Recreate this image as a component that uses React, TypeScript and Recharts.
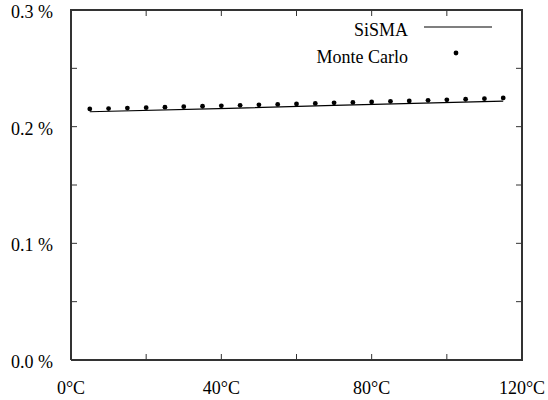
import { ComposedChart, Line, Scatter, XAxis, YAxis } from "recharts";

// Monte Carlo samples, every 5 °C
const temps = [5, 10, 15, 20, 25, 30, 35, 40, 45, 50, 55, 60, 65, 70, 75, 80, 85, 90, 95, 100, 105, 110, 115];
const monteCarlo = [
  0.2152, 0.2155, 0.2159, 0.2163, 0.2167, 0.2171, 0.2175, 0.2179, 0.2183, 0.2187, 0.2191, 0.2195,
  0.2199, 0.2204, 0.2208, 0.2212, 0.2217, 0.2221, 0.2226, 0.2230, 0.2235, 0.2240, 0.2246,
];

// SiSMA model curve
const sismaTemps = [5, 42, 70, 115];
const sismaValues = [0.2128, 0.2157, 0.2182, 0.2219];

const xTicks = [0, 20, 40, 60, 80, 100, 120];
const xTickLabels = ["0°C", "", "40°C", "", "80°C", "", "120°C"];
const yTicks = [0, 0.05, 0.1, 0.15, 0.2, 0.25, 0.3];
const yTickLabels = ["0.0 %", "", "0.1 %", "", "0.2 %", "", "0.3 %"];

const X_MIN = 0;
const X_MAX = 120;
const Y_MIN = 0;
const Y_MAX = 0.3;

const mcData = temps.map((t, i) => ({ t, v: monteCarlo[i] }));
const sismaData = sismaTemps.map((t, i) => ({ t, v: sismaValues[i] }));
// box round the plot, walked corner to corner
const frameData = [
  { t: X_MIN, v: Y_MIN },
  { t: X_MAX, v: Y_MIN },
  { t: X_MAX, v: Y_MAX },
  { t: X_MIN, v: Y_MAX },
  { t: X_MIN, v: Y_MIN },
];

const W = 548;
const H = 400;
const MARGIN = { top: 10, right: 26, bottom: 0, left: 10 };
const Y_AXIS_W = 61;
const X_AXIS_H = 40;
const PLOT_W = W - MARGIN.left - Y_AXIS_W - MARGIN.right;
const PLOT_H = H - MARGIN.top - X_AXIS_H;
const TICK = 6;

const FONT = "'Liberation Serif', 'Times New Roman', serif";
const AXIS = "#333";

// inward ticks on bottom + mirrored on top
const XTick = (props: any) => {
  const { x, y, payload } = props;
  const label = xTickLabels[xTicks.indexOf(payload.value)];
  return (
    <g>
      <line x1={x} y1={y} x2={x} y2={y - TICK} stroke={AXIS} />
      <line x1={x} y1={y - PLOT_H} x2={x} y2={y - PLOT_H + TICK} stroke={AXIS} />
      <text x={x} y={y + 34} textAnchor="middle" fontFamily={FONT} fontSize={18} fill="#000">
        {label}
      </text>
    </g>
  );
};

// inward ticks on left + mirrored on right
const YTick = (props: any) => {
  const { x, y, payload } = props;
  const label = yTickLabels[yTicks.indexOf(payload.value)];
  return (
    <g>
      <line x1={x} y1={y} x2={x + TICK} y2={y} stroke={AXIS} />
      <line x1={x + PLOT_W} y1={y} x2={x + PLOT_W - TICK} y2={y} stroke={AXIS} />
      <text x={x - 18} y={y + 8} textAnchor="end" fontFamily={FONT} fontSize={18} fill="#000">
        {label}
      </text>
    </g>
  );
};

const Dot = (props: any) => {
  const { cx, cy } = props;
  return <circle cx={cx} cy={cy} r={2.4} fill="#000" />;
};

export default function App() {
  return (
    <div style={{ position: "absolute", left: 0, top: 0, width: W, height: H, background: "#fff" }}>
      <ComposedChart width={W} height={H} margin={MARGIN}>
        <XAxis
          dataKey="t"
          type="number"
          domain={[X_MIN, X_MAX]}
          ticks={xTicks}
          interval={0}
          height={X_AXIS_H}
          tickSize={0}
          tickMargin={0}
          tickLine={false}
          stroke={AXIS}
          strokeWidth={2}
          tick={<XTick />}
        />
        <YAxis
          type="number"
          domain={[Y_MIN, Y_MAX]}
          ticks={yTicks}
          interval={0}
          width={Y_AXIS_W}
          tickSize={0}
          tickMargin={0}
          tickLine={false}
          stroke={AXIS}
          strokeWidth={2}
          tick={<YTick />}
        />
        <Line
          data={frameData}
          dataKey="v"
          type="linear"
          stroke={AXIS}
          strokeWidth={2}
          dot={false}
          activeDot={false}
          legendType="none"
          isAnimationActive={false}
        />
        <Line
          data={sismaData}
          dataKey="v"
          type="linear"
          stroke="#000"
          strokeWidth={1.2}
          dot={false}
          isAnimationActive={false}
        />
        <Scatter
          data={mcData}
          dataKey="v"
          fill="#000"
          shape={<Dot />}
          isAnimationActive={false}
        />
      </ComposedChart>
      <svg
        width={W}
        height={70}
        style={{ position: "absolute", left: 0, top: 0, pointerEvents: "none" }}
      >
        <text x={408} y={36} textAnchor="end" fontFamily={FONT} fontSize={18} fill="#000">
          SiSMA
        </text>
        <line x1={424} y1={27} x2={492} y2={27} stroke="#000" strokeWidth={1.2} />
        <text x={408} y={63} textAnchor="end" fontFamily={FONT} fontSize={18} fill="#000">
          Monte Carlo
        </text>
        <circle cx={456} cy={53} r={2.4} fill="#000" />
      </svg>
    </div>
  );
}
